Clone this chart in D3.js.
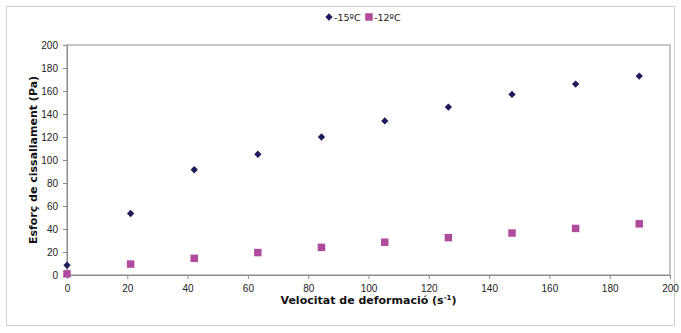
<!DOCTYPE html>
<html>
<head>
<meta charset="utf-8">
<script src="https://cdn.jsdelivr.net/npm/d3@7"></script>
<style>
  html, body { margin: 0; padding: 0; background: #fff; }
  svg { display: block; font-family: "DejaVu Sans", Verdana, sans-serif; }
</style>
</head>
<body>
<svg id="chart" width="681" height="333"></svg>
<script>
// Shear rate (s^-1) at which each measurement was taken
const shearRate = [0, 21.1, 42.2, 63.3, 84.4, 105.4, 126.5, 147.6, 168.7, 189.8];
// Shear stress (Pa) for each temperature
const stressMinus15 = [8.5, 53.5, 91.5, 105, 120, 134, 146, 157, 166, 173];
const stressMinus12 = [1, 9.5, 14.5, 19.5, 24, 28.5, 32.5, 36.5, 40.5, 44.5];
const seriesNames = ["-15ºC", "-12ºC"];
const xTicks = [0, 20, 40, 60, 80, 100, 120, 140, 160, 180, 200];
const yTicks = [0, 20, 40, 60, 80, 100, 120, 140, 160, 180, 200];

const svg = d3.select("#chart");
const W = 681, H = 333;
const m = { left: 67, right: 11, top: 45, bottom: 58 };

// outer chart frame
svg.append("rect").attr("x", 6.5).attr("y", 6.5).attr("width", W - 13).attr("height", H - 14)
  .attr("fill", "#fff").attr("stroke", "#cfcfcf");

const x = d3.scaleLinear().domain([0, 200]).range([m.left, W - m.right]);
const y = d3.scaleLinear().domain([0, 200]).range([H - m.bottom, m.top]);

// plot area border
svg.append("rect")
  .attr("x", x(0)).attr("y", y(200))
  .attr("width", x(200) - x(0)).attr("height", y(0) - y(200))
  .attr("fill", "none").attr("stroke", "#8c8c8c").attr("stroke-width", 1);

const xAxis = svg.append("g").attr("transform", `translate(0,${y(0)})`)
  .call(d3.axisBottom(x).tickValues(xTicks).tickSize(4).tickPadding(6).tickFormat(d3.format("d")));
const yAxis = svg.append("g").attr("transform", `translate(${x(0)},0)`)
  .call(d3.axisLeft(y).tickValues(yTicks).tickSize(4).tickPadding(5).tickFormat(d3.format("d")));
[xAxis, yAxis].forEach(g => {
  g.select(".domain").attr("stroke", "#8c8c8c");
  g.selectAll(".tick line").attr("stroke", "#8c8c8c");
  g.selectAll(".tick text").attr("fill", "#222").style("font-size", "10px");
});

// markers
const diamond = d3.symbol().type(d3.symbolDiamond2).size(34);
const square = d3.symbol().type(d3.symbolSquare).size(56);
const colMinus15 = "#1e1b5c", colMinus12 = "#b04a9c";

svg.append("g").selectAll("path").data(shearRate.map((r, i) => [r, stressMinus12[i]]))
  .join("path").attr("d", square)
  .attr("transform", d => `translate(${x(d[0])},${y(d[1])})`)
  .attr("fill", colMinus12);

svg.append("g").selectAll("path").data(shearRate.map((r, i) => [r, stressMinus15[i]]))
  .join("path").attr("d", diamond)
  .attr("transform", d => `translate(${x(d[0])},${y(d[1])})`)
  .attr("fill", colMinus15);

// axis titles
svg.append("text")
  .attr("transform", `translate(37,${(y(0) + y(200)) / 2}) rotate(-90)`)
  .attr("text-anchor", "middle").style("font-size", "11px").style("font-weight", "bold")
  .attr("fill", "#111").text("Esforç de cissallament (Pa)");

const xt = svg.append("text").attr("x", (x(0) + x(200)) / 2).attr("y", 304)
  .attr("text-anchor", "middle").style("font-size", "11px").style("font-weight", "bold").attr("fill", "#111");
xt.append("tspan").text("Velocitat de deformació (s");
xt.append("tspan").attr("dy", -4).style("font-size", "7px").text("-1");
xt.append("tspan").attr("dy", 4).text(")");

// legend
const leg = svg.append("g").attr("transform", "translate(0,17)");
const legendItems = [
  { name: seriesNames[0], sym: diamond, col: colMinus15, x: 329 },
  { name: seriesNames[1], sym: square, col: colMinus12, x: 369 }
];
legendItems.forEach(it => {
  leg.append("path").attr("d", it.sym).attr("transform", `translate(${it.x},0)`).attr("fill", it.col);
  leg.append("text").attr("x", it.x + 5).attr("y", 3.5).style("font-size", "9.5px")
    .attr("fill", "#222").text(it.name);
});
</script>
</body>
</html>
